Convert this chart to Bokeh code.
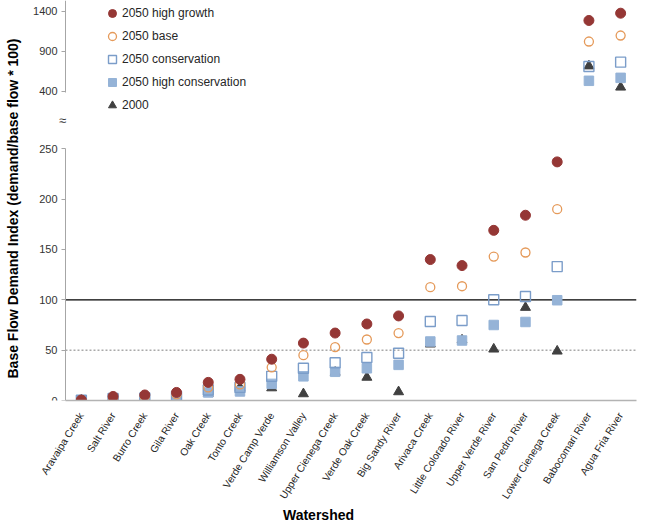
import numpy as np
from bokeh.plotting import figure
from bokeh.models import (Range1d, LinearAxis, FixedTicker, Label, Legend,
                          LegendItem, ColumnDataSource)
from bokeh.embed import file_html
from bokeh.resources import INLINE

watersheds = ["Aravaipa Creek", "Salt River", "Burro Creek", "Gila River", "Oak Creek",
              "Tonto Creek", "Verde Camp Verde", "Williamson Valley", "Upper Cienega Creek",
              "Verde Oak Creek", "Big Sandy River", "Arivaca Creek", "Little Colorado River",
              "Upper Verde River", "San Pedro River", "Lower Cienega Creek",
              "Babocomari River", "Agua Fria River"]
high_growth = [0.5, 4, 5.5, 8, 18, 21, 41, 57, 67, 76, 84, 140, 134, 169, 184, 237, 1284, 1375]
base = [0.4, 3, 4, 6, 13, 16, 33, 45, 53, 60.6, 67, 112.6, 113.5, 143, 147, 190, 1021, 1096]
conservation = [0.3, 2, 2.5, 4, 10.5, 13, 24, 32, 37.5, 42.7, 47, 78.5, 79.4, 100, 103.3, 133, 709, 763]
high_conservation = [0.2, 1.5, 1.5, 3, 8, 9, 16.5, 24, 28.5, 32, 35.4, 58.6, 59.6, 75, 78, 99.6, 530, 567]
y2000 = [0.2, 1, 0, 2, 7, 13, 12.5, 6.6, 28, 23, 8.6, 56, 60, 51, 92.4, 49, 715, 450]
lower_ticks = [0, 50, 100, 150, 200, 250]
upper_ticks = [400, 900, 1400]
threshold_solid = 100
threshold_dotted = 50

FONT = "Liberation Sans"
xpos = np.arange(len(watersheds))
x_first, x_last = -0.5, len(watersheds) - 0.5

p = figure(frame_width=636, frame_height=400, min_border_left=0, min_border_right=9,
           min_border_top=0, min_border_bottom=0, output_backend="svg", toolbar_location=None,
           x_range=Range1d(-2.549, x_last), y_range=Range1d(0, 397.3), y_axis_location=None)
p.extra_y_ranges = {"upper": Range1d(-3466, 1533.75)}
p.xgrid.visible = False
p.ygrid.visible = False
p.outline_line_color = None
p.background_fill_color = "white"
p.border_fill_color = "white"

# reference lines (only across the plot area)
p.segment(x0=[x_first], x1=[x_last], y0=[threshold_solid], y1=[threshold_solid],
          line_color="black", line_width=1.2)
p.segment(x0=[x_first], x1=[x_last], y0=[threshold_dotted], y1=[threshold_dotted],
          line_color="#7f7f7f", line_width=1, line_dash="2 2")

series = [
    ("2000", y2000, dict(marker="triangle", size=10, fill_color="#404040", line_color="#404040")),
    ("2050 high conservation", high_conservation,
     dict(marker="square", size=9.5, fill_color="#95b3d7", line_color="#95b3d7")),
    ("2050 conservation", conservation,
     dict(marker="square", size=10, fill_color=None, line_color="#7b9dc9", line_width=1.4)),
    ("2050 base", base,
     dict(marker="circle", size=9, fill_color=None, line_color="#e59a5a", line_width=1.3)),
    ("2050 high growth", high_growth,
     dict(marker="circle", size=10, fill_color="#953735", line_color="#953735")),
]

renderers = {}
for name, vals, style in series:
    v = np.array(vals, dtype=float)
    lo = v <= 300
    src_lo = ColumnDataSource(dict(x=xpos[lo], y=v[lo]))
    src_hi = ColumnDataSource(dict(x=xpos[~lo], y=v[~lo]))
    r = p.scatter("x", "y", source=src_lo, **style)
    p.scatter("x", "y", source=src_hi, y_range_name="upper", **style)
    renderers[name] = r

order = ["2050 high growth", "2050 base", "2050 conservation", "2050 high conservation", "2000"]
legend = Legend(items=[LegendItem(label=n, renderers=[renderers[n]]) for n in order],
                location=(102, 285), orientation="vertical", padding=0, margin=0,
                spacing=3, glyph_width=20, glyph_height=20, label_height=20,
                label_standoff=0, border_line_color=None, background_fill_alpha=0,
                label_text_font=FONT, label_text_font_size="12px",
                label_text_color="#262626")
p.add_layout(legend)


def style_y(ax):
    ax.minor_tick_line_color = None
    ax.axis_line_color = "#a6a6a6"
    ax.major_tick_line_color = "#a6a6a6"
    ax.major_tick_in = 0
    ax.major_tick_out = 4
    ax.major_label_standoff = 4
    ax.major_label_text_font = FONT
    ax.major_label_text_font_size = "11px"
    ax.major_label_text_color = "#333333"


# lower y axis
la = LinearAxis(fixed_location=x_first, ticker=FixedTicker(ticks=lower_ticks), bounds=(0, 250))
style_y(la)
p.add_layout(la, "left")

# upper y axis (broken part)
ua = LinearAxis(y_range_name="upper", fixed_location=x_first,
                ticker=FixedTicker(ticks=upper_ticks), bounds=(387, 1533))
style_y(ua)
p.add_layout(ua, "left")

# x axis
xa = p.xaxis[0]
xa.ticker = FixedTicker(ticks=list(range(len(watersheds))))
xa.bounds = (x_first, x_last)
xa.major_label_overrides = {i: n for i, n in enumerate(watersheds)}
xa.major_label_orientation = 1.0123
xa.major_tick_line_color = None
xa.minor_tick_line_color = None
xa.axis_line_color = "#b3b3b3"
xa.axis_line_width = 1.5
xa.major_label_standoff = 7
xa.major_label_text_font = FONT
xa.major_label_text_font_size = "10.3px"
xa.major_label_text_color = "#262626"
xa.axis_label = "Watershed"
xa.axis_label_text_font = FONT
xa.axis_label_text_font_style = "bold"
xa.axis_label_text_font_size = "14px"
xa.axis_label_text_color = "black"
xa.axis_label_standoff = 0

# y title and axis break mark
p.add_layout(Label(x=x_first, y=190.7, x_offset=-52, text="Base Flow Demand Index (demand/base flow * 100)",
                   angle=np.pi / 2, text_align="center", text_baseline="middle",
                   text_font=FONT, text_font_style="bold", text_font_size="14px",
                   text_color="black"))
p.add_layout(Label(x=x_first, y=278, x_offset=-3, text="≈", text_align="center",
                   text_baseline="middle", text_font=FONT, text_font_size="13px",
                   text_color="#333333"))

open("out.html", "w").write(file_html(p, INLINE))
